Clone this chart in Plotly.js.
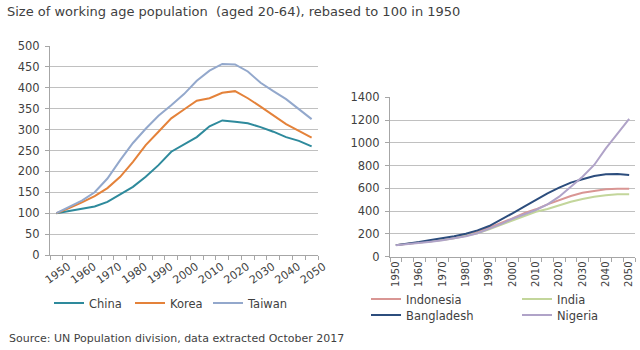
<!DOCTYPE html>
<html><head><meta charset="utf-8">
<script src="https://cdn.plot.ly/plotly-3.0.1.min.js"></script>
<style>html,body{margin:0;padding:0;background:#fff}#chart{width:640px;height:350px}</style>
</head><body><div id="chart"></div>
<script>
const years = [1950,1955,1960,1965,1970,1975,1980,1985,1990,1995,2000,2005,2010,2015,2020,2025,2030,2035,2040,2045,2050];
const labelYears = [1950,1960,1970,1980,1990,2000,2010,2020,2030,2040,2050];
const china  = [100,105,110,116,127,145,163,187,215,247,265,282,308,322,319,315,306,295,282,273,260];
const korea  = [100,112,126,141,160,187,223,263,295,327,348,369,375,388,392,375,355,333,313,297,281];
const taiwan = [100,115,130,150,183,227,268,302,333,358,385,417,441,457,456,439,412,392,373,349,325];
const indonesia  = [100,110,122,135,148,163,185,215,253,291,335,380,415,459,497,532,561,579,591,595,595];
const india      = [100,110,120,132,145,160,180,205,240,277,315,356,394,418,453,482,506,526,538,547,547];
const bangladesh = [100,112,127,145,160,178,200,230,268,321,380,438,497,556,605,650,679,708,723,726,717];
const nigeria    = [100,108,118,130,142,158,178,205,244,285,332,373,409,459,526,614,702,805,950,1080,1210];

const FONT = '"DejaVu Sans", Verdana, sans-serif';
const TXT = '#3f3f3f';
const GRID = '#c0c0c0';
const AX = '#a6a6a6';

// legend positions (text start x, row centre y) in pixels
const legPos = {
  legend:  [89, 303], legend2: [170, 303], legend3: [248, 303],
  legend4: [406, 299], legend5: [557, 299], legend6: [406, 315], legend7: [557, 315]
};

function tr(y, name, color, xa, ya, leg){
  return {x: years, y: y, name: name, type: 'scatter', mode: 'lines',
    line: {color: color, width: 2}, xaxis: xa, yaxis: ya, legend: leg};
}
const data = [
  tr(china, 'China', '#2e8a9c', 'x', 'y', 'legend'),
  tr(korea, 'Korea', '#e4823a', 'x', 'y', 'legend2'),
  tr(taiwan, 'Taiwan', '#93a8cc', 'x', 'y', 'legend3'),
  tr(indonesia, 'Indonesia', '#d99694', 'x2', 'y2', 'legend4'),
  tr(india, 'India', '#c3d69b', 'x2', 'y2', 'legend5'),
  tr(bangladesh, 'Bangladesh', '#2c4d7d', 'x2', 'y2', 'legend6'),
  tr(nigeria, 'Nigeria', '#b0a3c8', 'x2', 'y2', 'legend7')
];

function xax(domain, angle, anchor, size, shift){
  return {domain: domain, anchor: anchor, range: [1947.5, 2052.5], tickmode: 'array',
    tickvals: labelYears, ticktext: labelYears.map(String), tickangle: angle,
    ticklabelshift: shift,
    ticks: '', showgrid: false, zeroline: false, showline: true, linecolor: AX, linewidth: 1,
    tickfont: {family: FONT, size: size, color: TXT},
    minor: {tick0: 1947.5, dtick: 5, ticks: 'outside', ticklen: 4, tickcolor: AX, showgrid: false}};
}
function yax(domain, range, dtick, anchor){
  return {domain: domain, anchor: anchor, range: range, dtick: dtick, tick0: 0,
    showgrid: true, gridcolor: GRID, gridwidth: 1, zeroline: false,
    showline: true, linecolor: AX, linewidth: 1, ticks: 'outside', ticklen: 4, tickcolor: AX,
    ticklabelstandoff: 3,
    tickfont: {family: FONT, size: 11.5, color: TXT}};
}

const layout = {
  width: 640, height: 350,
  margin: {l: 0, r: 0, t: 0, b: 0},
  paper_bgcolor: '#fff', plot_bgcolor: '#fff',
  font: {family: FONT, color: TXT},
  title: {text: 'Size of working age population  (aged 20-64), rebased to 100 in 1950',
    x: 7/640, xanchor: 'left', xref: 'paper', y: 1 - 11/350, yref: 'container', yanchor: 'middle',
    font: {family: FONT, size: 13, color: TXT}},
  xaxis: xax([50/640, 318/640], -35, 'y', 11, 12),
  yaxis: yax([(350-255)/350, (350-46)/350], [0, 500], 50, 'x'),
  xaxis2: xax([390/640, 635/640], -90, 'y2', 10, 0),
  yaxis2: yax([(350-256.5)/350, (350-97.3)/350], [0, 1400], 200, 'x2'),
  showlegend: true,
  annotations: [{text: 'Source: UN Population division, data extracted October 2017',
    xref: 'paper', yref: 'paper', x: 7/640, y: (350-338)/350, xanchor: 'left', yanchor: 'middle',
    showarrow: false, font: {family: FONT, size: 11, color: TXT}}]
};
Object.keys(legPos).forEach(function(k){
  const p = legPos[k];
  layout[k] = {orientation: 'h', x: (p[0]-40)/640, xanchor: 'left', y: (350-p[1])/350, yanchor: 'middle',
    itemwidth: 30, font: {family: FONT, size: 11.5, color: TXT}, bgcolor: 'rgba(0,0,0,0)', borderwidth: 0};
});
Plotly.newPlot('chart', data, layout, {displayModeBar: false, staticPlot: true});
</script></body></html>
